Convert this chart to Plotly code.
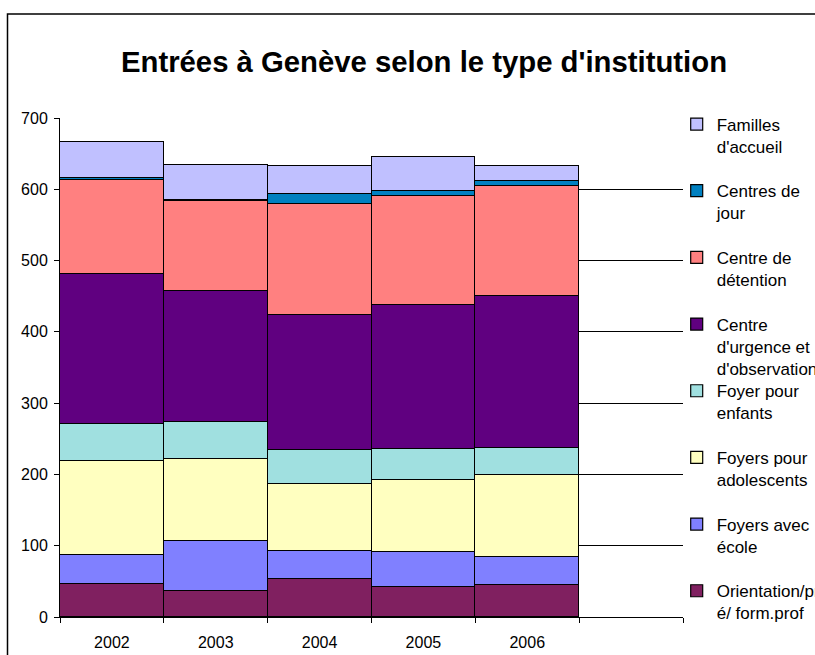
import plotly.graph_objects as go

# ---- data ----
years = ["2002", "2003", "2004", "2005", "2006"]
orientation = [46, 36, 54, 42, 45]
foyers_ecole = [41, 71, 38, 49, 39]
foyers_ado = [132, 115, 94, 101, 115]
foyer_enfants = [52, 52, 48, 43, 38]
centre_urgence = [210, 184, 189, 202, 213]
centre_detention = [132, 125, 157, 153, 155]
centres_jour = [3, 2, 13, 8, 7]
familles = [51, 49, 40, 47, 20]

series_names = [
    "Orientation/pr<br>é/ form.prof",
    "Foyers avec<br>école",
    "Foyers pour<br>adolescents",
    "Foyer pour<br>enfants",
    "Centre<br>d'urgence et<br>d'observation",
    "Centre de<br>détention",
    "Centres de<br>jour",
    "Familles<br>d'accueil",
]
series_values = [orientation, foyers_ecole, foyers_ado, foyer_enfants,
                 centre_urgence, centre_detention, centres_jour, familles]
colors = ["#802060", "#8080FF", "#FFFFC0", "#A0E0E0",
          "#600080", "#FF8080", "#0080C0", "#C0C0FF"]

FONT = "Liberation Sans, Arial, sans-serif"
W, H = 815, 655

fig = go.Figure()
legend_ids = ["legend8", "legend7", "legend6", "legend5",
              "legend4", "legend3", "legend2", "legend"]
for name, vals, col, lid in zip(series_names, series_values, colors, legend_ids):
    fig.add_trace(go.Bar(
        x=years, y=vals, name=name,
        marker=dict(color=col, line=dict(color="black", width=1.2)),
        legend=lid, showlegend=True,
    ))

# legend placement (one legend per entry, stacked top to bottom)
layout_legends = {}
order = ["legend", "legend2", "legend3", "legend4",
         "legend5", "legend6", "legend7", "legend8"]
for i, lid in enumerate(order):
    top = 120 + 66.67 * i - 13.5
    layout_legends[lid] = dict(
        x=(716.7 - 40) / W, xref="container", xanchor="left",
        y=1 - top / H, yref="container", yanchor="top",
        valign="top", bgcolor="rgba(0,0,0,0)", borderwidth=0,
        font=dict(family=FONT, size=17, color="black"),
    )

plot_l, plot_r, plot_t, plot_b = 60, 683, 118, 617

fig.update_layout(
    width=W, height=H,
    showlegend=True,
    paper_bgcolor="white", plot_bgcolor="white",
    barmode="stack", bargap=0,
    margin=dict(l=plot_l, r=W - plot_r, t=plot_t, b=H - plot_b, autoexpand=False),
    font=dict(family=FONT, size=16, color="black"),
    title=dict(
        text="<b>Entrées à Genève selon le type d'institution</b>",
        font=dict(family=FONT, size=29.3, color="black"),
        x=424 / W, xref="container", xanchor="center",
        y=1 - 61.5 / H, yref="container", yanchor="middle",
    ),
    xaxis=dict(
        type="category", categoryorder="array", categoryarray=years + [" "],
        range=[-0.5, 5.5], tickson="boundaries",
        ticks="outside", ticklen=5, tickcolor="black", tickwidth=1,
        ticklabelstandoff=11,
        showline=True, linecolor="black", linewidth=1,
        showgrid=False, zeroline=False,
        tickfont=dict(family=FONT, size=16, color="black"),
    ),
    yaxis=dict(
        range=[0, 700], dtick=100, tick0=0,
        ticks="outside", ticklen=5, tickcolor="black", tickwidth=1,
        ticklabelstandoff=3,
        showline=True, linecolor="black", linewidth=1,
        showgrid=True, gridcolor="black", gridwidth=1,
        zeroline=False,
        tickfont=dict(family=FONT, size=16, color="black"),
    ),
    shapes=[dict(
        type="rect", xref="paper", yref="paper",
        x0=(7.5 - plot_l) / (plot_r - plot_l), x1=1.5,
        y0=-0.5, y1=(plot_b - 14) / (plot_b - plot_t),
        line=dict(color="black", width=1.5), fillcolor="rgba(0,0,0,0)",
        layer="below",
    )],
    **layout_legends,
)

fig.write_html(
    "out.html",
    config={"displayModeBar": False},
    post_script="document.body.style.margin='0px';document.body.style.overflow='hidden';",
)
